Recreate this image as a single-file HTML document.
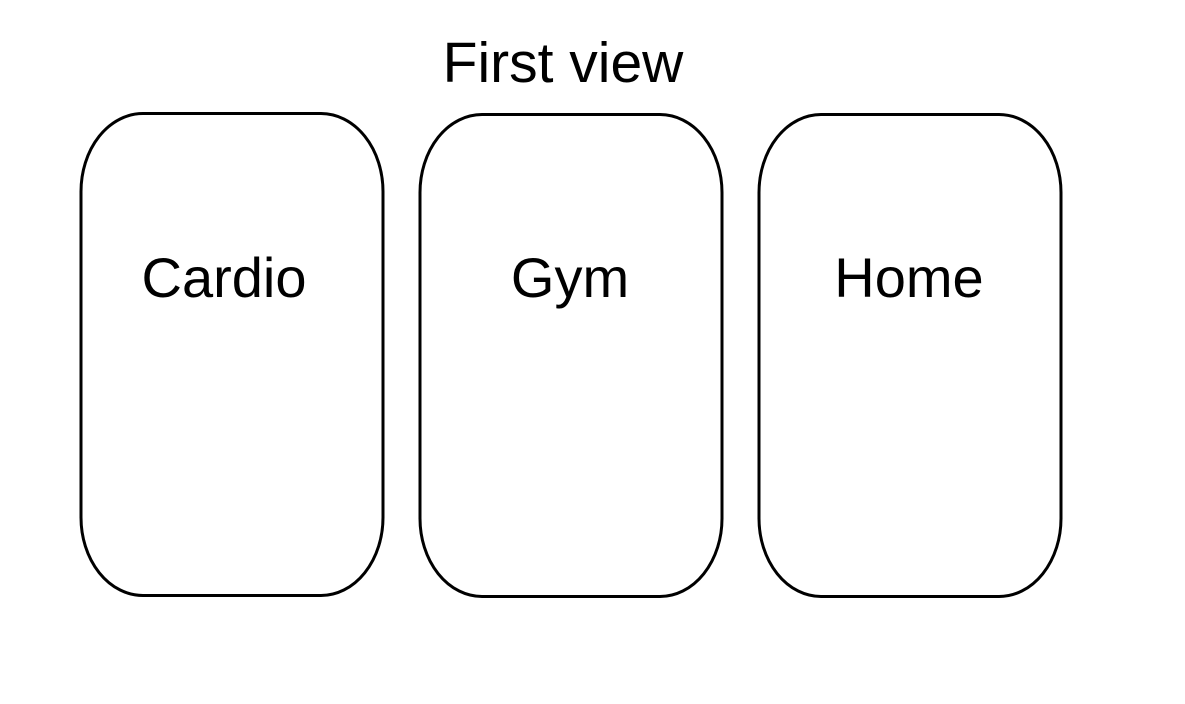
<!DOCTYPE html>
<html><head><meta charset="utf-8"><style>
html,body{margin:0;padding:0;background:#fff;}
svg{display:block;}
text{font-family:"Liberation Sans",sans-serif;fill:#000;}
</style></head><body>
<svg width="1185" height="704" viewBox="0 0 1185 704" xmlns="http://www.w3.org/2000/svg">
<rect x="0" y="0" width="1185" height="704" fill="#fff"/>
<text x="563" y="82" font-size="57" text-anchor="middle">First view</text>
<rect x="81" y="113.5" width="302" height="482" rx="62" ry="78" fill="none" stroke="#000" stroke-width="3"/>
<rect x="420" y="114.5" width="302" height="482" rx="62" ry="78" fill="none" stroke="#000" stroke-width="3"/>
<rect x="759" y="114.5" width="302" height="482" rx="62" ry="78" fill="none" stroke="#000" stroke-width="3"/>
<text x="224" y="297" font-size="56" text-anchor="middle">Cardio</text>
<text x="570" y="297" font-size="56" text-anchor="middle">Gym</text>
<text x="909" y="297" font-size="56" text-anchor="middle">Home</text>
</svg>
</body></html>
